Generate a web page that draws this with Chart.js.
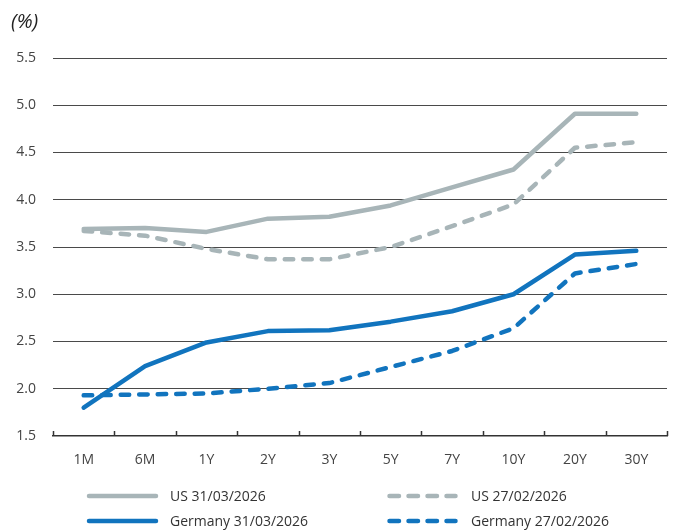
<!DOCTYPE html>
<html>
<head>
<meta charset="utf-8">
<script src="https://cdn.jsdelivr.net/npm/chart.js@4/dist/chart.umd.min.js"></script>
<style>
  html, body { margin: 0; padding: 0; background: #ffffff; }
  #wrap { position: relative; width: 677px; height: 531px; }
  #unit { position: absolute; left: 11px; top: 7px; font: italic 20px "Open Sans", sans-serif; color: #222; }
</style>
</head>
<body>
<div id="wrap">
  <canvas id="chart" width="677" height="531"></canvas>
  <div id="unit">(%)</div>
</div>
<script>
// Maturities along the curve
const maturities = ['1M', '6M', '1Y', '2Y', '3Y', '5Y', '7Y', '10Y', '20Y', '30Y'];

// Government bond yields (%)
const usMar = [3.69, 3.70, 3.66, 3.80, 3.82, 3.94, 4.13, 4.32, 4.91, 4.91];
const usFeb = [3.67, 3.62, 3.48, 3.37, 3.37, 3.50, 3.72, 3.95, 4.55, 4.61];
const deMar = [1.80, 2.24, 2.49, 2.61, 2.62, 2.71, 2.82, 3.00, 3.42, 3.46];
const deFeb = [1.93, 1.94, 1.95, 2.00, 2.06, 2.23, 2.40, 2.64, 3.22, 3.32];

// Series names
const seriesNames = ['US 31/03/2026', 'US 27/02/2026', 'Germany 31/03/2026', 'Germany 27/02/2026'];

// Y axis range
const yMin = 1.5, yMax = 5.5, yStep = 0.5;

const GREY = '#a8b5b8';
const BLUE = '#1174be';
const LW = 4.5;
const DASH = [8.5, 10];
const FONT = '"Open Sans", sans-serif';

function lineSet(label, data, color, dashed) {
  return {
    label, data,
    borderColor: color, backgroundColor: color,
    borderWidth: LW,
    borderDash: dashed ? DASH : [],
    borderCapStyle: 'round',
    borderJoinStyle: 'round',
    pointRadius: 0, pointHoverRadius: 0,
    tension: 0, fill: false
  };
}

// Small tick marks rising from the category axis at each category boundary
const axisTicks = {
  id: 'axisTicks',
  afterDraw(chart) {
    const x = chart.scales.x, ctx = chart.ctx;
    const bottom = chart.chartArea.bottom;
    ctx.save();
    ctx.strokeStyle = '#333';
    ctx.lineWidth = 1.5;
    for (let i = 0; i <= maturities.length; i++) {
      const px = Math.round(x.getPixelForValue(i - 0.5)) + 0.5;
      ctx.beginPath();
      ctx.moveTo(px, bottom);
      ctx.lineTo(px, bottom - 5);
      ctx.stroke();
    }
    ctx.restore();
  }
};

// Two-column legend below the axis
const gridLegend = {
  id: 'gridLegend',
  afterDraw(chart) {
    const ctx = chart.ctx;
    const cols = [{ x0: 89, x1: 156, tx: 170 }, { x0: 389.5, x1: 455.5, tx: 471 }];
    const rows = [496, 521];
    ctx.save();
    chart.data.datasets.forEach((ds, i) => {
      const c = cols[i % 2], y = rows[Math.floor(i / 2)];
      ctx.strokeStyle = ds.borderColor;
      ctx.lineWidth = LW;
      ctx.lineCap = 'round';
      ctx.setLineDash(ds.borderDash.length ? [9.5, 9.5] : []);
      ctx.beginPath();
      ctx.moveTo(c.x0, y);
      ctx.lineTo(c.x1, y);
      ctx.stroke();
      ctx.setLineDash([]);
      ctx.fillStyle = '#333';
      ctx.font = '14px ' + FONT;
      ctx.textBaseline = 'middle';
      ctx.textAlign = 'left';
      ctx.fillText(ds.label, c.tx, y + 1);
    });
    ctx.restore();
  }
};

new Chart(document.getElementById('chart'), {
  type: 'line',
  data: {
    labels: maturities,
    datasets: [
      lineSet(seriesNames[0], usMar, GREY, false),
      lineSet(seriesNames[1], usFeb, GREY, true),
      lineSet(seriesNames[2], deMar, BLUE, false),
      lineSet(seriesNames[3], deFeb, BLUE, true)
    ]
  },
  options: {
    responsive: false,
    animation: false,
    devicePixelRatio: 1,
    layout: { padding: { top: 58, right: 10, bottom: 0, left: 0 } },
    plugins: { legend: { display: false }, tooltip: { enabled: false } },
    scales: {
      x: {
        type: 'category',
        offset: true,
        grid: { display: true, offset: true, drawOnChartArea: false, drawTicks: false },
        border: { display: true, color: '#333', width: 1.5 },
        ticks: { color: '#444', font: { family: FONT, size: 14 }, padding: 16, maxRotation: 0, autoSkip: false },
        afterFit(scale) { scale.height = 95; }
      },
      y: {
        min: yMin, max: yMax,
        grid: {
          color: (c) => c.tick && c.tick.value === yMin ? 'rgba(0,0,0,0)' : '#4a4a4a',
          lineWidth: 1,
          drawTicks: false
        },
        border: { display: false },
        ticks: {
          stepSize: yStep,
          color: '#444',
          font: { family: FONT, size: 14 },
          padding: 17,
          callback: (v) => Number(v).toFixed(1)
        },
        afterFit(scale) { scale.width = 53; }
      }
    }
  },
  plugins: [axisTicks, gridLegend]
});
</script>
</body>
</html>
